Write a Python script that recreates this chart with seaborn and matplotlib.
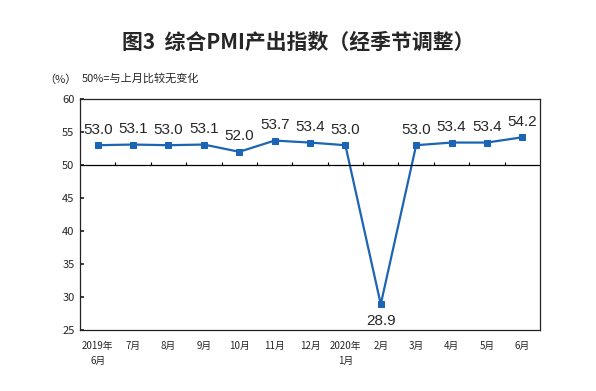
import numpy as np
import pandas as pd
import seaborn as sns
import matplotlib.pyplot as plt

months = ["2019年\n6月", "7月", "8月", "9月", "10月", "11月", "12月",
          "2020年\n1月", "2月", "3月", "4月", "5月", "6月"]
pmi = [53.0, 53.1, 53.0, 53.1, 52.0, 53.7, 53.4, 53.0, 28.9, 53.0, 53.4, 53.4, 54.2]

line_color = "#1c64b4"


def main():
    sns.set_theme(style="white")
    plt.rcParams["font.family"] = ["Noto Sans CJK SC", "DejaVu Sans"]

    df = pd.DataFrame({"pos": np.arange(len(months)), "pmi": pmi})

    fig = plt.figure(figsize=(5.96, 3.91), dpi=100)
    ax = fig.add_axes([80 / 596, 1 - 330 / 391, 460 / 596, 231 / 391])

    sns.lineplot(data=df, x="pos", y="pmi", color=line_color, linewidth=1.6,
                 marker="s", markersize=4.5, markeredgecolor=line_color, ax=ax)

    # value labels
    for i, v in enumerate(pmi):
        if v < 50:
            ax.annotate(f"{v:.1f}", (i, v), xytext=(0, -7), textcoords="offset points",
                        ha="center", va="top", fontsize=11, family="Liberation Sans")
        else:
            ax.annotate(f"{v:.1f}", (i, v), xytext=(0, 6), textcoords="offset points",
                        ha="center", va="bottom", fontsize=11, family="Liberation Sans")

    ax.set_xlim(-0.5, len(months) - 0.5)
    ax.set_ylim(25, 60)
    ax.set_yticks(range(25, 61, 5))
    ax.set_xticks(df["pos"])
    ax.set_xticklabels(months, fontsize=7, linespacing=1.6)
    ax.tick_params(axis="x", length=0, pad=8)
    ax.tick_params(axis="y", direction="in", length=3, labelsize=8, pad=4, left=True)
    ax.set_xlabel("")
    ax.set_ylabel("")

    # 50 baseline with category separators
    ax.axhline(50, color="black", linewidth=0.9)
    ax.vlines(np.arange(0.5, len(months) - 0.5), 50, 50.5, color="black", linewidth=0.8)

    for s in ax.spines.values():
        s.set_color("#222222")
        s.set_linewidth(0.9)

    fig.text(0.5, 1 - 42 / 391, "图3  综合PMI产出指数（经季节调整）", ha="center", va="center",
             fontsize=15, fontweight="semibold")
    fig.text(44 / 596, 1 - 80 / 391, "（%）", ha="left", va="center", fontsize=8)
    fig.text(82 / 596, 1 - 78 / 391, "50%=与上月比较无变化", ha="left", va="center", fontsize=8)

    fig.savefig("out.png", dpi=100)
    plt.close(fig)


if __name__ == "__main__":
    main()
